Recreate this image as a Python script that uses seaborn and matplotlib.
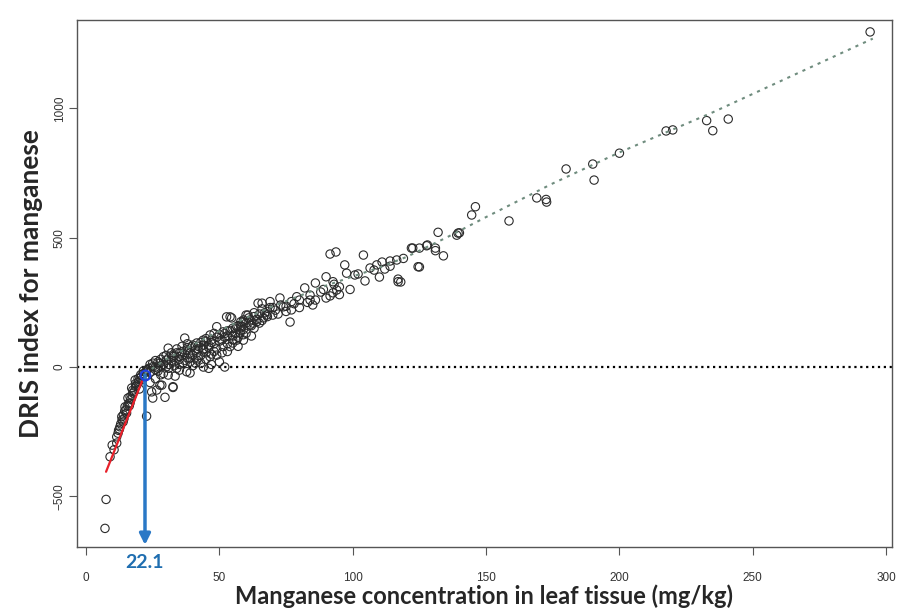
import matplotlib
matplotlib.use("Agg")
import numpy as np
import pandas as pd
import matplotlib.pyplot as plt
import seaborn as sns

# ---------------------------------------------------------------
#  data (Mn mg/kg vs DRIS index)
# ---------------------------------------------------------------
low_x = [7.5, 7.1, 9.0, 9.8, 10.5, 11.5, 11.5, 12.0, 12.7, 12.2, 13.4, 13.9, 14.2, 14.6,
         15.2, 15.0, 15.7, 16.0, 16.5, 16.8, 17.1, 17.6, 17.3, 18.0, 18.4, 18.6, 19.0,
         19.5, 20.2, 20.0, 20.8, 21.5, 21.0, 22.0, 22.5, 23.0, 16.2, 14.0, 13.0, 19.8,
         12.5, 13.5, 14.5, 15.5, 16.5, 17.5, 18.5, 19.5, 20.5, 21.5]
low_y = [-512, -624, -347, -302, -320, -294, -270, -256, -231, -245, -192, -212, -200, -154,
         -178, -165, -120, -140, -139, -125, -81, -101, -110, -95, -50, -75, -70,
         -60, -43, -85, -35, -25, -48, -38, -20, -10, -150, -185, -220, -55,
         -240, -205, -170, -150, -115, -90, -65, -45, -30, -15]

neg_x = [22.7, 29.6, 32.6, 25.0, 24.6, 28.4, 26.5, 33.4, 30.8, 37.7, 39.0, 32.6, 27.7,
         24.0, 26.0, 28.0, 24.0, 26.0, 35.0]
neg_y = [-190, -117, -79, -120, -96, -70, -89, -35, -31, -18, -23, -76, -70,
         -60, -45, -30, -20, -10, -12]

mid_x = [22.7, 25.0, 27.7, 30.2, 32.6, 35.0, 37.7, 39.6, 41.5, 43.9, 46.5,
         36.4, 39.0, 41.5, 43.9, 41.5, 49.0, 46.5, 51.4, 56.5, 55.0, 54.0, 59.0, 57.7,
         37.0, 30.8, 49.0, 51.4,
         24, 26, 28, 29, 31, 33, 34, 35, 36, 38, 38, 40, 40, 42, 42, 43, 44, 45, 45,
         46, 47, 48, 48, 50, 50, 52, 53, 53, 55, 56, 57, 58, 23.5, 27, 30, 32, 34,
         36, 44, 47, 52, 46, 60, 62, 63]
mid_y = [-12, 1, 15, 27, 40, 54, 66, 79, 93, 104, 124,
         15, 20, 27, 66, 54, 46, 40, 79, 104, 93, 79, 104, 131,
         112, 73, 156, 136,
         10, 25, 5, 40, 10, 20, 70, 30, 45, 35, 90, 45, 5, 70, 35, 15, 85, 55, 110,
         75, 95, 60, 130, 100, 20, 115, 60, 140, 120, 150, 80, 140, -5, -5, 0, 55, -5,
         80, 0, 10, 0, -5, 130, 120, 150]

band_x = [25, 26, 27, 28, 29, 30, 31, 32, 33, 34, 35, 36, 37, 38, 39, 40, 41, 42, 43, 44,
          45, 46, 47, 48, 49, 50, 51, 52, 53, 54, 55, 56, 57, 58, 59, 60, 61, 62, 63, 64,
          65, 66, 67, 68, 69, 71, 73, 75, 27, 29, 31, 33, 35, 37, 39, 41, 43, 45, 47, 49,
          51, 53, 55, 57, 59]
band_y = [15, 0, 20, 30, 10, 45, 35, 25, 45, 55, 40, 60, 50, 75, 55, 85, 65, 80, 95, 70,
          100, 85, 105, 90, 115, 125, 105, 130, 120, 140, 150, 130, 160, 175, 145, 170, 190,
          160, 195, 175, 205, 180, 210, 195, 230, 220, 240, 235, -15, -25, -5, 5, 10, 25,
          35, 15, 45, 30, 50, 70, 55, 90, 105, 115, 125]

upp_x = [52.7, 54.6, 54.0, 56.5, 59.0, 60.7, 61.5, 60.0, 61.5, 62.6, 58.4, 59.0, 64.5,
         66.0, 69.0, 72.7, 74.0, 77.0, 77.0, 70.0, 67.7, 66.5, 76.5, 65.0, 68.0, 70.0,
         72.0, 75.0, 79.0, 80.0, 78.0, 82.0, 84.0, 86.0, 84.0, 85.0, 80.0, 83.0, 63.0,
         66.0, 58.0, 64.0]
upp_y = [194, 190, 194, 156, 182, 201, 163, 201, 182, 170, 156, 175, 247,
         247, 253, 267, 233, 221, 253, 201, 201, 190, 174, 170, 215, 230,
         205, 215, 272, 259, 245, 306, 278, 259, 259, 240, 230, 250, 210,
         225, 160, 185]

hi_x = [86, 90, 91.5, 92.6, 90, 92.6, 94, 91.5, 93.7, 97, 97.7, 100.8, 104, 104.6, 110,
        117, 106.5, 109, 111, 114, 116.5, 112, 117, 88, 95, 95, 89, 93, 99, 102, 108,
        114, 118, 119, 122, 124.5, 125, 125, 122.5, 127.7, 131, 131, 132, 134, 139,
        140, 139.5, 146, 144.6, 128,
        158.6, 169, 172.7, 172.5, 180, 190, 190.5, 200, 217.5, 220, 232.7, 235, 240.8, 294]
hi_y = [325, 267, 275, 287, 349, 330, 298, 437, 445, 395, 363, 356, 433, 333, 348,
        330, 383, 395, 406, 410, 414, 379, 340, 290, 310, 280, 300, 320, 300, 360, 375,
        390, 329, 420, 460, 388, 387, 460, 460, 469, 460, 450, 521, 430, 510,
        519, 518, 620, 588, 472,
        565, 654, 638, 648, 766, 785, 723, 827, 913, 917, 953, 914, 959, 1296]

# smoothed trend (grey dotted) and low-range fit (red)
fit_x = [22, 30, 40, 50, 60, 70, 80, 90, 100, 110, 120, 135, 150, 175, 200, 235, 295]
fit_y = [-25, 30, 85, 140, 190, 235, 275, 315, 350, 385, 425, 500, 580, 710, 830, 985, 1270]
red_x = [7.5, 21.0]
red_y = [-405, -55]

critical_mn = 22.1
critical_dris = -31

df = pd.DataFrame({
    "mn": low_x + neg_x + mid_x + band_x + upp_x + hi_x,
    "dris": low_y + neg_y + mid_y + band_y + upp_y + hi_y,
})

# ---------------------------------------------------------------
#  figure
# ---------------------------------------------------------------
sns.set_style("white")
plt.rcParams["font.family"] = ["Lato", "DejaVu Sans"]

fig = plt.figure(figsize=(9.1, 6.16), dpi=100)
ax = fig.add_axes([0.0846, 0.112, 0.8956, 0.8555])

sns.scatterplot(data=df, x="mn", y="dris", ax=ax, s=36, marker="o",
                facecolor="none", edgecolor="#2b2b2b", linewidth=0.8, zorder=3)

ax.axhline(0, color="black", ls=":", lw=1.6, zorder=2)
ax.plot(fit_x, fit_y, ls=(0, (1.5, 2.5)), color="#6f8c7e", lw=1.5, zorder=4)
ax.plot(red_x, red_y, color="#e8202a", lw=1.6, zorder=5)

# critical level arrow
ax.annotate("", xy=(critical_mn, -688), xytext=(critical_mn, critical_dris),
            arrowprops=dict(arrowstyle="-|>", color="#2a78c6", lw=2.5,
                            mutation_scale=16, shrinkA=0, shrinkB=0), zorder=6)
ax.plot([critical_mn], [critical_dris], marker="o", ms=7, mfc="none",
        mec="#2040e0", mew=1.5, zorder=7)
ax.text(critical_mn, -757, "22.1", color="#1f6eb0", fontsize=14, fontweight="bold",
        ha="center", va="center", clip_on=False)

ax.set_xlim(-3.4, 302.2)
ax.set_ylim(-696, 1342)
ax.set_xticks([0, 50, 100, 150, 200, 250, 300])
ax.set_yticks([-500, 0, 500, 1000])

for sp in ax.spines.values():
    sp.set_color("#555555")
    sp.set_linewidth(1.0)

ax.tick_params(axis="both", direction="out", length=6, width=0.8, color="#555555",
               labelsize=8.5, labelcolor="#333333", bottom=True, left=True)
ax.tick_params(axis="x", pad=12)
ax.tick_params(axis="y", pad=2)
for lab in ax.get_xticklabels() + ax.get_yticklabels():
    lab.set_family(["Liberation Sans", "DejaVu Sans"])
for lab in ax.get_yticklabels():
    lab.set_rotation(90)
    lab.set_va("center")

ax.set_xlabel("Manganese concentration in leaf tissue (mg/kg)", fontsize=17,
              fontweight="bold", labelpad=0)
ax.set_ylabel("DRIS index for manganese", fontsize=19, fontweight="bold", labelpad=8)

fig.savefig("out.png", dpi=100)
